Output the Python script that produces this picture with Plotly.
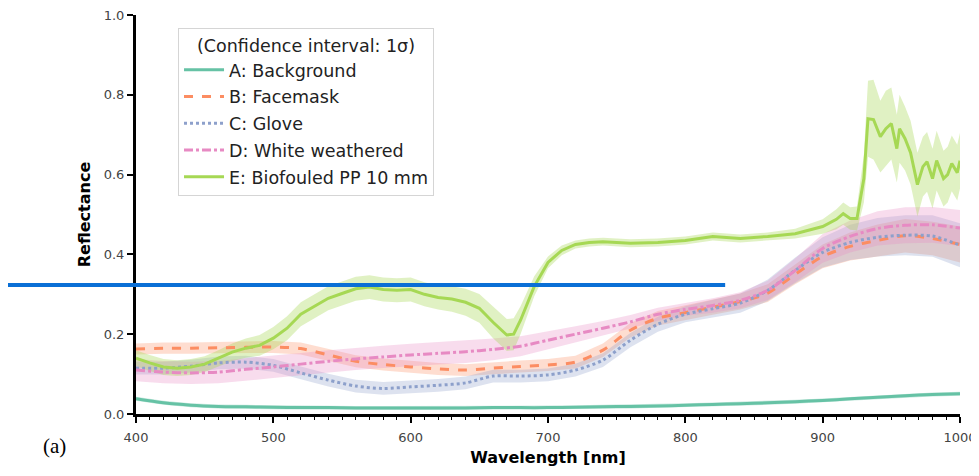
import numpy as np
import plotly.graph_objects as go

# ---------------- data ----------------
wl = [400, 420, 440, 460, 480, 500, 520, 540, 560, 580, 600, 620, 640, 660, 680,
      700, 720, 740, 760, 780, 800, 820, 840, 860, 880, 900, 920, 940, 960, 980, 1000]

bg_mean = [0.038, 0.028, 0.022, 0.019, 0.018, 0.017, 0.016, 0.016, 0.015, 0.015, 0.015,
           0.015, 0.015, 0.016, 0.016, 0.016, 0.017, 0.018, 0.019, 0.020, 0.022, 0.024,
           0.026, 0.028, 0.031, 0.034, 0.038, 0.042, 0.046, 0.049, 0.051]
bg_sd = [0.005] * 31

mask_mean = [0.163, 0.165, 0.165, 0.166, 0.167, 0.168, 0.164, 0.148, 0.132, 0.124, 0.118,
             0.113, 0.110, 0.115, 0.119, 0.123, 0.130, 0.160, 0.210, 0.240, 0.254, 0.268,
             0.282, 0.303, 0.350, 0.395, 0.420, 0.435, 0.447, 0.440, 0.425]
mask_sd = [0.014, 0.014, 0.014, 0.014, 0.014, 0.015, 0.015, 0.015, 0.015, 0.015, 0.015,
           0.015, 0.015, 0.015, 0.015, 0.015, 0.016, 0.017, 0.018, 0.018, 0.018, 0.019,
           0.020, 0.022, 0.025, 0.030, 0.035, 0.040, 0.042, 0.042, 0.045]

glove_mean = [0.115, 0.115, 0.120, 0.128, 0.130, 0.122, 0.103, 0.085, 0.070, 0.064, 0.068,
              0.072, 0.078, 0.095, 0.095, 0.098, 0.110, 0.135, 0.185, 0.225, 0.250, 0.264,
              0.278, 0.310, 0.360, 0.405, 0.430, 0.443, 0.448, 0.446, 0.423]
glove_sd = [0.016, 0.016, 0.016, 0.016, 0.016, 0.016, 0.016, 0.016, 0.016, 0.016, 0.016,
            0.016, 0.016, 0.016, 0.016, 0.016, 0.016, 0.017, 0.018, 0.019, 0.020, 0.022,
            0.024, 0.027, 0.032, 0.038, 0.044, 0.048, 0.050, 0.052, 0.055]

white_mean = [0.110, 0.105, 0.103, 0.105, 0.112, 0.118, 0.125, 0.132, 0.138, 0.143, 0.148,
              0.152, 0.156, 0.162, 0.170, 0.185, 0.200, 0.215, 0.231, 0.250, 0.262, 0.272,
              0.285, 0.310, 0.360, 0.415, 0.445, 0.465, 0.473, 0.474, 0.466]
white_sd = [0.028, 0.028, 0.028, 0.028, 0.028, 0.028, 0.028, 0.028, 0.028, 0.028, 0.028,
            0.028, 0.028, 0.027, 0.025, 0.022, 0.020, 0.018, 0.017, 0.016, 0.016, 0.018,
            0.020, 0.024, 0.030, 0.036, 0.040, 0.043, 0.045, 0.045, 0.045]

bio_wl = [400, 410, 420, 430, 440, 450, 460, 470, 480, 490, 500, 510, 520, 530, 540, 550,
          560, 570, 580, 590, 600, 610, 620, 630, 640, 650, 660, 670, 675, 680, 690, 700,
          710, 720, 730, 740, 760, 780, 800, 820, 840, 860, 880, 900, 910, 915, 920, 925,
          930, 933, 937, 942, 946, 950, 954, 956, 960, 964, 969, 973, 976, 980, 983, 988,
          991, 994, 998, 1000]
bio_mean = [0.140, 0.128, 0.118, 0.115, 0.118, 0.125, 0.140, 0.155, 0.165, 0.172, 0.190,
            0.215, 0.250, 0.270, 0.290, 0.302, 0.314, 0.318, 0.312, 0.310, 0.312, 0.300,
            0.292, 0.288, 0.280, 0.265, 0.230, 0.198, 0.200, 0.235, 0.320, 0.380, 0.410,
            0.425, 0.430, 0.432, 0.428, 0.430, 0.435, 0.445, 0.440, 0.445, 0.452, 0.470,
            0.488, 0.502, 0.490, 0.490, 0.590, 0.740, 0.738, 0.695, 0.715, 0.728, 0.665,
            0.715, 0.690, 0.655, 0.575, 0.620, 0.632, 0.590, 0.635, 0.590, 0.600, 0.628,
            0.605, 0.635]
bio_sd = [0.020, 0.020, 0.020, 0.020, 0.020, 0.020, 0.020, 0.022, 0.024, 0.026, 0.028,
          0.030, 0.030, 0.030, 0.030, 0.030, 0.030, 0.030, 0.030, 0.030, 0.030, 0.030,
          0.030, 0.032, 0.034, 0.036, 0.040, 0.040, 0.040, 0.035, 0.025, 0.015, 0.012,
          0.010, 0.010, 0.010, 0.010, 0.010, 0.010, 0.010, 0.010, 0.010, 0.012, 0.018,
          0.025, 0.028, 0.028, 0.030, 0.060, 0.095, 0.100, 0.090, 0.095, 0.090, 0.085,
          0.085, 0.080, 0.080, 0.080, 0.075, 0.075, 0.075, 0.075, 0.070, 0.070, 0.070,
          0.070, 0.070]

names = ["A: Background", "B: Facemask", "C: Glove", "D: White weathered", "E: Biofouled PP 10 mm"]
colors = ["#66c2a5", "#fc8d62", "#8da0cb", "#e78ac3", "#a6d854"]
fills = ["rgba(102,194,165,0.35)", "rgba(252,141,98,0.3)", "rgba(141,160,203,0.3)",
         "rgba(231,138,195,0.3)", "rgba(166,216,84,0.35)"]
dashes = ["solid", "dash", "dot", "dashdot", "solid"]

series = [(wl, bg_mean, bg_sd), (wl, mask_mean, mask_sd), (wl, glove_mean, glove_sd),
          (wl, white_mean, white_sd), (bio_wl, bio_mean, bio_sd)]

fig = go.Figure()

# bands first
for (x, m, s), fc in zip(series, fills):
    x = np.array(x, float); m = np.array(m); s = np.array(s)
    fig.add_trace(go.Scatter(
        x=np.concatenate([x, x[::-1]]),
        y=np.concatenate([m + s, (m - s)[::-1]]),
        fill="toself", fillcolor=fc, line=dict(width=0), mode="lines",
        hoverinfo="skip", showlegend=False))

for i, ((x, m, s), n, c, d) in enumerate(zip(series, names, colors, dashes)):
    shape = "spline" if x is wl else "linear"
    fig.add_trace(go.Scatter(
        x=x, y=m, name=n, mode="lines", legendgroup=f"g{i}",
        line=dict(color=c, width=3, dash=d, shape=shape, smoothing=0.8)))

# page body has an 8px margin -> figure is drawn at (8, 8)
fig.update_layout(
    width=971, height=468,
    margin=dict(l=128, r=19, t=7, b=62, autoexpand=False),
    paper_bgcolor="white", plot_bgcolor="white",
    font=dict(family="DejaVu Sans", size=13, color="#333"),
    legend=dict(
        x=0.051, y=0.967, xanchor="left", yanchor="top",
        bgcolor="rgba(255,255,255,0.85)", bordercolor="#d5d5d5", borderwidth=1,
        font=dict(size=17.5, color="#222"),
        title=dict(text="(Confidence interval: 1σ)", side="top center",
                   font=dict(size=17.5, color="#222")),
        tracegroupgap=1, itemwidth=40),
    showlegend=True,
)

fig.update_xaxes(
    range=[400, 1000], tickvals=[400, 500, 600, 700, 800, 900, 1000],
    ticks="outside", ticklen=6, tickwidth=1.5, tickcolor="black",
    showline=True, linecolor="black", linewidth=3, showgrid=False, zeroline=False,
    minor=dict(dtick=10, ticks="outside", ticklen=3, tickcolor="black", tickwidth=1),
    tickfont=dict(size=13, color="#444"), ticklabelstandoff=3, ticklabeloverflow="allow",
    title=dict(text="<b>Wavelength [nm]</b>", font=dict(size=16, color="black"), standoff=9),
)
fig.update_yaxes(
    range=[0, 1.0], tickvals=[0, 0.2, 0.4, 0.6, 0.8, 1.0], tickformat=".1f",
    ticks="outside", ticklen=6, tickwidth=1.5, tickcolor="black",
    showline=True, linecolor="black", linewidth=3, showgrid=False, zeroline=False,
    tickfont=dict(size=13, color="#444"), ticklabeloverflow="allow",
    title=dict(text="<b>Reflectance</b>", font=dict(size=16, color="black"), standoff=10),
)

# blue annotation line across the figure
fig.add_shape(type="line", xref="paper", yref="y", x0=-0.159, x1=0.715, y0=0.323, y1=0.323,
              line=dict(color="#0a6fd6", width=4), layer="above")

fig.add_annotation(text="(a)", xref="paper", yref="paper", x=-0.099, y=-0.080,
                   xanchor="center", yanchor="middle", showarrow=False,
                   font=dict(family="Liberation Serif", size=21, color="black"))

fig.write_html("out.html")
